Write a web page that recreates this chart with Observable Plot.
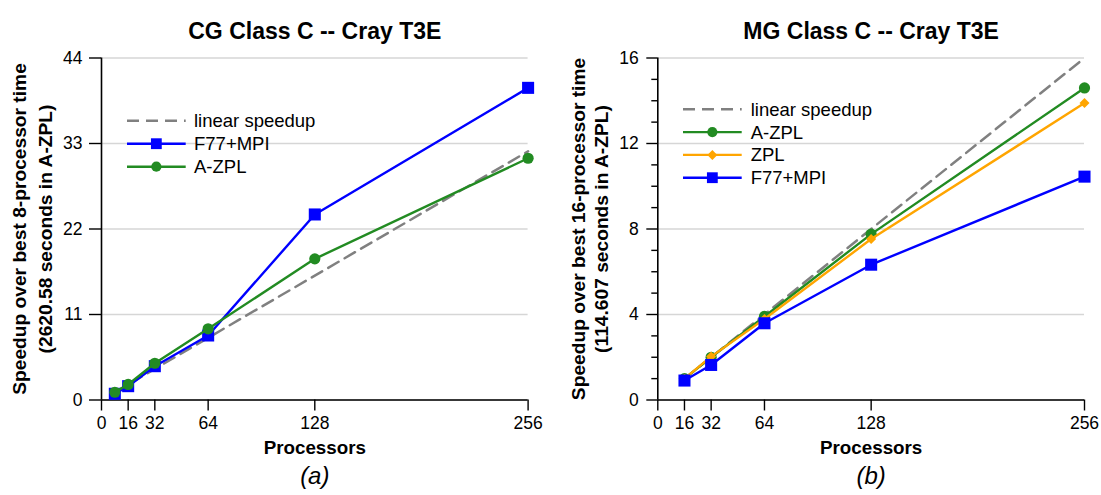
<!DOCTYPE html>
<html>
<head>
<meta charset="utf-8">
<script src="https://cdn.jsdelivr.net/npm/d3@7"></script>
<script src="https://cdn.jsdelivr.net/npm/@observablehq/plot@0.6"></script>
<style>
html, body { margin: 0; padding: 0; background: #fff; }
#wrap { position: relative; width: 1101px; height: 495px; display: flex; }
#wrap > div { flex: none; }
svg text { font-family: "Liberation Sans", Arial, sans-serif; }
</style>
</head>
<body>
<div id="wrap"><div id="cg"></div><div id="mg"></div></div>
<script>
// ---------- data ----------
const xTicks = [0, 16, 32, 64, 128, 256];

// CG Class C (panel a)
const cgTitle = "CG Class C -- Cray T3E";
const cgYLabel = "Speedup over best 8-processor time\n(2620.58 seconds in A-ZPL)";
const cgCaption = "(a)";
const cgYTicks = [0, 11, 22, 33, 44];
const cgProcs = [8, 16, 32, 64, 128, 256];
const cgF77 = [0.8, 1.78, 4.35, 8.3, 23.87, 40.16];
const cgAZPL = [1.0, 2.0, 4.73, 9.16, 18.16, 31.1];
const cgLinearProcs = [8, 256];
const cgLinear = [1, 32];

// MG Class C (panel b)
const mgTitle = "MG Class C -- Cray T3E";
const mgYLabel = "Speedup over best 16-processor time\n(114.607 seconds in A-ZPL)";
const mgCaption = "(b)";
const mgYTicks = [0, 4, 8, 12, 16];
const mgYMinorTicks = [1, 2, 3, 5, 6, 7, 9, 10, 11, 13, 14, 15];
const mgProcs = [16, 32, 64, 128, 256];
const mgAZPL = [1.0, 2.0, 3.91, 7.76, 14.6];
const mgZPL = [1.0, 2.03, 3.79, 7.53, 13.89];
const mgF77 = [0.91, 1.64, 3.59, 6.33, 10.45];
const mgLinearProcs = [16, 256];
const mgLinear = [1, 16];

// ---------- styles ----------
const BLUE = "#0000ff", GREEN = "#228b22", ORANGE = "#ffa500", GRAY = "#808080";
const sym = {
  square: {plot: "square", d3: d3.symbolSquare, r: 6.8, legendR: 6.1},
  circle: {plot: "circle", d3: d3.symbolCircle, r: 5.6, legendR: 5.1},
  diamond: {plot: "diamond2", d3: d3.symbolDiamond2, r: 4.5, legendR: 4.5}
};
const LW = 2.4;

function rows(procs, vals) { return procs.map((p, i) => ({p, v: vals[i]})); }

function panel(cfg) {
  const marks = [
    Plot.gridY({ticks: cfg.yTicks, stroke: "#d6d6d6", strokeOpacity: 1, strokeWidth: 1.4}),
    Plot.ruleY([0], {stroke: "#000", strokeWidth: 1.6}),
    Plot.ruleX([0], {stroke: "#000", strokeWidth: 1.6}),
    Plot.axisY({ticks: cfg.yTicks, tickSize: cfg.yTickSize, tickPadding: cfg.yTickPadding, label: null, fontSize: 17.5, strokeWidth: 1.4})
  ];
  if (cfg.yMinor) marks.push(Plot.axisY({ticks: cfg.yMinor, tickSize: 6, tickPadding: 0, tickFormat: () => "", label: null, strokeWidth: 1.4}));
  marks.push(Plot.axisX({ticks: xTicks, tickSize: 11, tickPadding: 6, label: null, fontSize: 17.5, strokeWidth: 1.4}));
  marks.push(Plot.line(rows(cfg.linearProcs, cfg.linear), {x: "p", y: "v", stroke: GRAY, strokeWidth: 2.5, strokeDasharray: "12,7"}));
  for (const s of cfg.series) {
    const data = rows(cfg.procs, s.values);
    marks.push(Plot.line(data, {x: "p", y: "v", stroke: s.color, strokeWidth: LW}));
    marks.push(Plot.dot(data, {x: "p", y: "v", fill: s.color, stroke: "none", r: sym[s.symbol].r, symbol: sym[s.symbol].plot}));
  }
  marks.push(Plot.text([cfg.title], {text: d => d, frameAnchor: "top", dy: -35.5, fontSize: 23, fontWeight: "bold"}));
  marks.push(Plot.text(["Processors"], {text: d => d, frameAnchor: "bottom", dy: 54, fontSize: 18.8, fontWeight: "bold"}));
  marks.push(Plot.text([cfg.caption], {text: d => d, frameAnchor: "bottom", dy: 84, fontSize: 24, fontStyle: "italic", fontFamily: "Liberation Serif"}));
  marks.push(Plot.text([cfg.ylabel], {text: d => d, frameAnchor: "left", textAnchor: "middle", lineAnchor: "middle", rotate: -90, dx: cfg.yLabelDx, lineHeight: cfg.yLabelLH, fontSize: 19.2, fontWeight: "bold"}));

  const svg = Plot.plot({
    width: cfg.width, height: 495,
    marginLeft: cfg.marginLeft, marginRight: cfg.marginRight, marginTop: 57.5, marginBottom: 95.5,
    x: {domain: [0, 256]},
    y: {domain: cfg.yDomain},
    style: {fontFamily: "Liberation Sans, Arial, sans-serif", color: "#000", background: "#fff", overflow: "visible"},
    marks
  });

  // legend (drawn into the same svg)
  const g = d3.select(svg).append("g").attr("transform", `translate(${cfg.legendX},${cfg.legendY})`);
  const entries = [{name: "linear speedup", color: GRAY, dashed: true}, ...cfg.series];
  const lineLen = 58.7;
  entries.forEach((e, i) => {
    const row = g.append("g").attr("transform", `translate(0,${i * cfg.legendRow})`);
    row.append("line").attr("x1", 0).attr("x2", lineLen).attr("y1", 0).attr("y2", 0)
      .attr("stroke", e.color).attr("stroke-width", e.dashed ? 2.5 : LW)
      .attr("stroke-dasharray", e.dashed ? "12,7" : null);
    if (e.symbol) {
      const S = sym[e.symbol];
      row.append("path").attr("d", d3.symbol(S.d3, Math.PI * S.legendR * S.legendR)())
        .attr("transform", `translate(${lineLen / 2},0)`).attr("fill", e.color);
    }
    row.append("text").attr("x", cfg.legendTextX).attr("dy", "0.35em")
      .attr("text-anchor", "start").style("text-anchor", "start")
      .attr("font-size", 18.5).attr("fill", "#000").text(e.name);
  });
  return svg;
}

document.getElementById("cg").appendChild(panel({
  width: 550, marginLeft: 101, marginRight: 22.4,
  yDomain: [0, 44], yTicks: cgYTicks, yMinor: null, yTickSize: 12, yTickPadding: 7,
  title: cgTitle, ylabel: cgYLabel, caption: cgCaption,
  yLabelDx: -71, yLabelLH: 1.38,
  procs: cgProcs, linearProcs: cgLinearProcs, linear: cgLinear,
  series: [
    {name: "F77+MPI", color: BLUE, symbol: "square", values: cgF77},
    {name: "A-ZPL", color: GREEN, symbol: "circle", values: cgAZPL}
  ],
  legendX: 127, legendY: 120.7, legendRow: 23, legendTextX: 67
}));

document.getElementById("mg").appendChild(panel({
  width: 551, marginLeft: 107.3, marginRight: 17,
  yDomain: [0, 16], yTicks: mgYTicks, yMinor: mgYMinorTicks, yTickSize: 11, yTickPadding: 8,
  title: mgTitle, ylabel: mgYLabel, caption: mgCaption,
  yLabelDx: -68.8, yLabelLH: 1.2,
  procs: mgProcs, linearProcs: mgLinearProcs, linear: mgLinear,
  series: [
    {name: "A-ZPL", color: GREEN, symbol: "circle", values: mgAZPL},
    {name: "ZPL", color: ORANGE, symbol: "diamond", values: mgZPL},
    {name: "F77+MPI", color: BLUE, symbol: "square", values: mgF77}
  ],
  legendX: 133, legendY: 109.3, legendRow: 22.8, legendTextX: 67.7
}));
</script>
</body>
</html>
